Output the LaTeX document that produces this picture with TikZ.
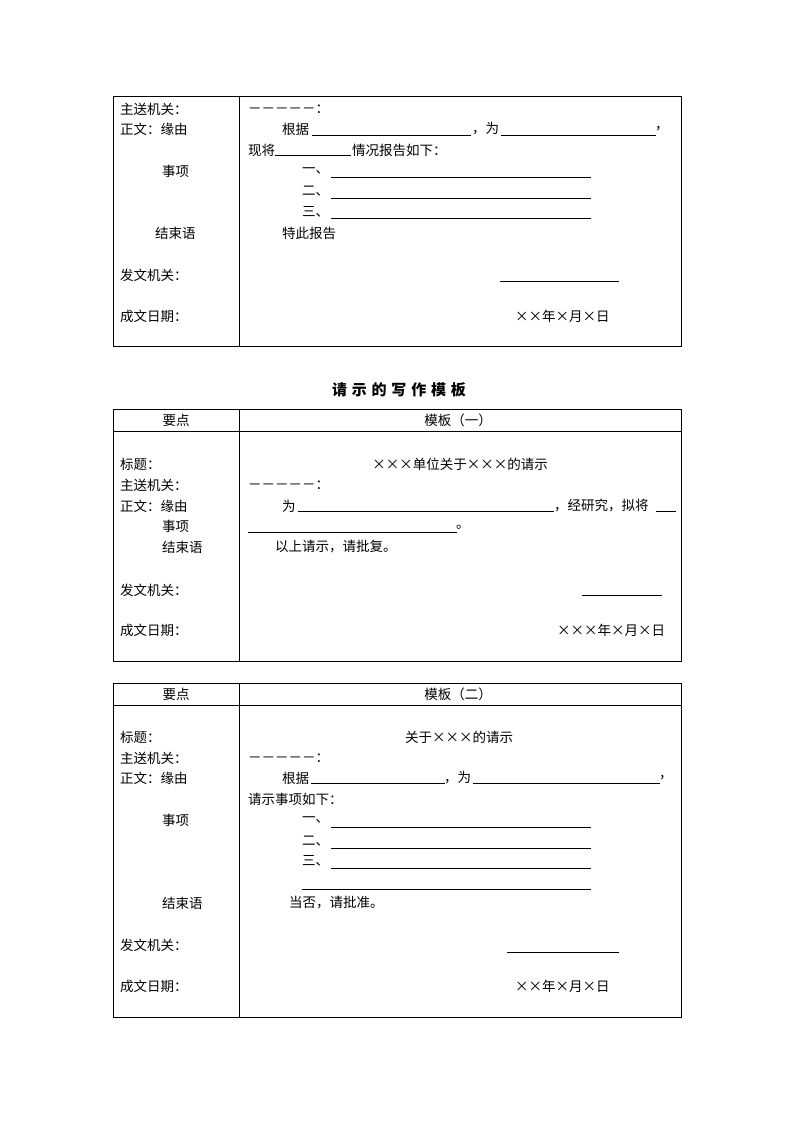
\documentclass[tikz,border=0pt]{standalone}
\usepackage{fontspec}
\newfontfamily\cjk{Noto Sans CJK SC}
\newfontfamily\cjktitle[LetterSpace=32]{Noto Sans CJK SC}
\begin{document}
\begin{tikzpicture}[x=1pt,y=-1pt,
  t/.style={anchor=west,inner sep=0pt,font=\cjk\fontsize{13.5}{16}\selectfont},
  c/.style={anchor=center,inner sep=0pt,font=\cjk\fontsize{13.5}{16}\selectfont},
  frame/.style={line width=0.9pt},
  ul/.style={line width=0.8pt}]
\useasboundingbox (0,0) rectangle (794,1123);
\fill[white] (0,0) rectangle (794,1123);

% ================= Table 1 =================
\draw[frame] (113,96) rectangle (681,346);
\draw[frame] (239,96) -- (239,346);
\node[t] (a1) at (120,109) {主送机关：};
\node[t] (a2) at (120,129) {正文：缘由};
\node[t] (a3) at (162,171) {事项};
\node[t] (a4) at (155,233) {结束语};
\node[t] (a5) at (120,275) {发文机关：};
\node[t] (a6) at (120,316) {成文日期：};

\node[t] (b1) at (248,109) {－－－－－：};
\node[t] (b2) at (282,129) {根据};
\draw[ul] (312,135) -- (471,135);
\node[t] (b3) at (472,129) {，为};
\draw[ul] (501,135) -- (656,135);
\node[t] (b4) at (655,129) {，};
\node[t] (b5) at (248,150) {现将};
\draw[ul] (275,155) -- (351,155);
\node[t] (b6) at (352,150) {情况报告如下：};
\node[t] (b7) at (302,171) {一、};
\draw[ul] (331,177) -- (591,177);
\node[t] (b8) at (302,191) {二、};
\draw[ul] (331,198) -- (591,198);
\node[t] (b9) at (302,212) {三、};
\draw[ul] (331,218) -- (591,218);
\node[t] (b10) at (282,233) {特此报告};
\draw[ul] (500,281) -- (619,281);
\node[t] (b11) at (515,316) {××年×月×日};

% ================= Title =================
\node[c,font=\cjktitle\bfseries\fontsize{15}{18}\selectfont] (title) at (399,390) {请示的写作模板};

% ================= Table 2 =================
\draw[frame] (113,409) rectangle (681,661);
\draw[frame] (113,431) -- (681,431);
\draw[frame] (239,409) -- (239,661);
\node[c] (h1) at (176,420) {要点};
\node[c] (h2) at (458,420) {模板（一）};
\node[t] (c1) at (120,464) {标题：};
\node[t] (c2) at (120,485) {主送机关：};
\node[t] (c3) at (120,506) {正文：缘由};
\node[t] (c4) at (162,526) {事项};
\node[t] (c5) at (162,547) {结束语};
\node[t] (c6) at (120,590) {发文机关：};
\node[t] (c7) at (120,630) {成文日期：};

\node[c] (d1) at (460,464) {×××单位关于×××的请示};
\node[t] (d2) at (248,485) {－－－－－：};
\node[t] (d3) at (282,506) {为};
\draw[ul] (298,511) -- (554,511);
\node[t] (d4) at (554,506) {，经研究，拟将};
\draw[ul] (656,511) -- (676,511);
\draw[ul] (248,532) -- (457,532);
\node[t] (d5) at (456,527) {。};
\node[t] (d6) at (275,547) {以上请示，请批复。};
\draw[ul] (582,595) -- (662,595);
\node[t] (d7) at (557,630) {×××年×月×日};

% ================= Table 3 =================
\draw[frame] (113,683) rectangle (681,1017);
\draw[frame] (113,705) -- (681,705);
\draw[frame] (239,683) -- (239,1017);
\node[c] (h3) at (176,694) {要点};
\node[c] (h4) at (458,694) {模板（二）};
\node[t] (e1) at (120,737) {标题：};
\node[t] (e2) at (120,758) {主送机关：};
\node[t] (e3) at (120,778) {正文：缘由};
\node[t] (e4) at (162,820) {事项};
\node[t] (e5) at (162,903) {结束语};
\node[t] (e6) at (120,945) {发文机关：};
\node[t] (e7) at (120,986) {成文日期：};

\node[c] (f1) at (459,737) {关于×××的请示};
\node[t] (f2) at (248,758) {－－－－－：};
\node[t] (f3) at (282,778) {根据};
\draw[ul] (311,783) -- (445,783);
\node[t] (f4) at (444,778) {，为};
\draw[ul] (473,783) -- (660,783);
\node[t] (f5) at (659,778) {，};
\node[t] (f6) at (248,799) {请示事项如下：};
\node[t] (f7) at (302,820) {一、};
\draw[ul] (331,827) -- (591,827);
\node[t] (f8) at (302,841) {二、};
\draw[ul] (331,848) -- (591,848);
\node[t] (f9) at (302,861) {三、};
\draw[ul] (331,868) -- (591,868);
\draw[ul] (302,889) -- (591,889);
\node[t] (f10) at (289,903) {当否，请批准。};
\draw[ul] (507,952) -- (619,952);
\node[t] (f11) at (515,986) {××年×月×日};
\end{tikzpicture}
\end{document}
